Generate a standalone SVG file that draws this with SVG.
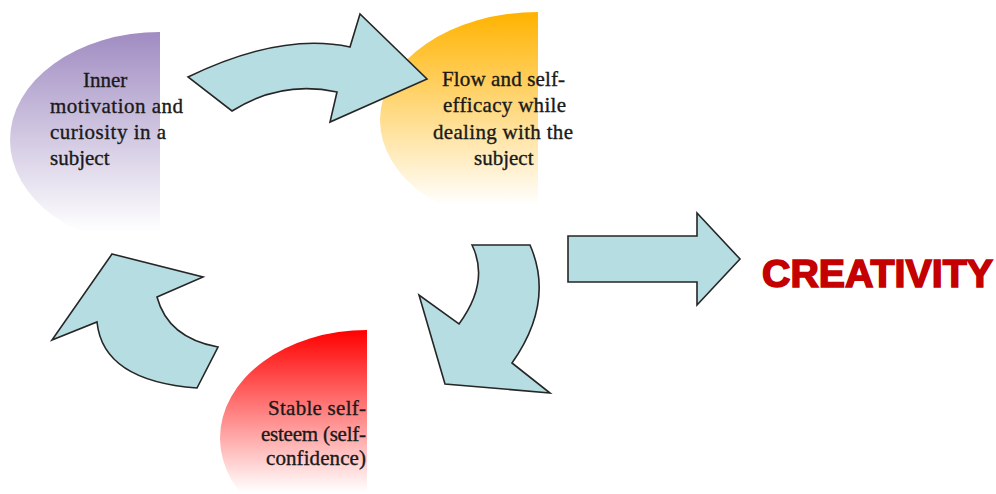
<svg xmlns="http://www.w3.org/2000/svg" width="996" height="494" viewBox="0 0 996 494">
  <defs>
    <linearGradient id="gPurple" gradientUnits="userSpaceOnUse" x1="0" y1="32" x2="0" y2="232">
      <stop offset="0" stop-color="#a08cc2"/>
      <stop offset="1" stop-color="#ffffff"/>
    </linearGradient>
    <linearGradient id="gOrange" gradientUnits="userSpaceOnUse" x1="0" y1="12" x2="0" y2="205">
      <stop offset="0" stop-color="#ffb300"/>
      <stop offset="1" stop-color="#ffffff"/>
    </linearGradient>
    <linearGradient id="gRed" gradientUnits="userSpaceOnUse" x1="0" y1="330" x2="0" y2="492">
      <stop offset="0" stop-color="#ff0000"/>
      <stop offset="1" stop-color="#ffffff"/>
    </linearGradient>
    <style>
      .lbl { font-family: "Liberation Serif", "Times New Roman", serif; font-size: 21px; fill: #1a1a1a; stroke: #1a1a1a; stroke-width: 0.35; }
      .arrow { fill: #b6dde2; stroke: #262626; stroke-width: 1.6; stroke-linejoin: miter; }
      .big { font-family: "Liberation Sans", Arial, sans-serif; font-weight: bold; font-size: 39px; fill: #c40000; stroke: #c40000; stroke-width: 1.6; }
    </style>
  </defs>
  <rect width="996" height="494" fill="#ffffff"/>

  <g id="node-inner-motivation">
    <path d="M160,32 A150,108 0 0 0 160,248 Z" fill="url(#gPurple)"/>
    <text class="lbl" x="83" y="87">Inner</text>
    <text class="lbl" x="50" y="113" textLength="133" lengthAdjust="spacing">motivation and</text>
    <text class="lbl" x="50" y="139" textLength="116" lengthAdjust="spacing">curiosity in a</text>
    <text class="lbl" x="50" y="165">subject</text>
  </g>

  <g id="node-flow">
    <path d="M538,12 A158,108 0 0 0 538,228 Z" fill="url(#gOrange)"/>
    <text class="lbl" x="442" y="86" textLength="123" lengthAdjust="spacing">Flow and self-</text>
    <text class="lbl" x="443" y="112" textLength="123" lengthAdjust="spacing">efficacy while</text>
    <text class="lbl" x="433" y="139" textLength="140" lengthAdjust="spacing">dealing with the</text>
    <text class="lbl" x="474" y="165">subject</text>
  </g>

  <g id="node-self-esteem">
    <path d="M367,330 A147,108 0 0 0 367,546 Z" fill="url(#gRed)"/>
    <text class="lbl" x="268" y="415" textLength="98" lengthAdjust="spacing">Stable self-</text>
    <text class="lbl" x="261" y="441" textLength="105" lengthAdjust="spacing">esteem (self-</text>
    <text class="lbl" x="266" y="465" textLength="100" lengthAdjust="spacing">confidence)</text>
  </g>

  <g id="node-creativity">
    <text class="big" x="762" y="287" textLength="231" lengthAdjust="spacingAndGlyphs">CREATIVITY</text>
  </g>

  <g id="connectors">
    <path class="arrow" d="M188,77 Q281,32 350,47 L360,14 L427,79 L330,122 L337,92 Q281,80 232,111 Z"/>
    <path class="arrow" d="M472,245 L530,245 Q555,302 512,363 L550,393 L445,384 L419,295 L459,324 Q490,282 472,245 Z"/>
    <path class="arrow" d="M112,254 L203,277 L157,297 Q168,338 218,347 L197,388 Q103,381 97,322 L52,340 Z"/>
    <path class="arrow" d="M568,236 L697,236 L697,213 L740,259 L697,305 L697,282 L568,282 Z"/>
  </g>
</svg>
